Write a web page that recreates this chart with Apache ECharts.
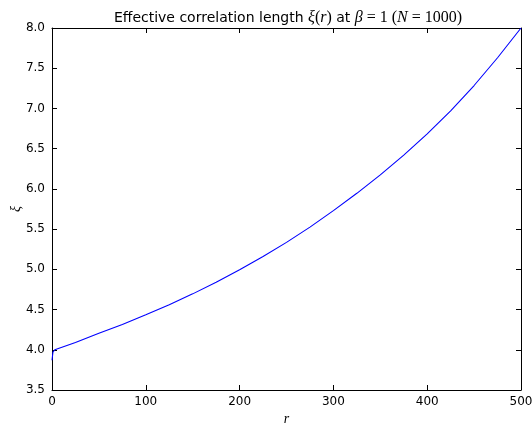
<!DOCTYPE html>
<html>
<head>
<meta charset="utf-8">
<script src="https://cdn.jsdelivr.net/npm/echarts@6/dist/echarts.min.js"></script>
<style>
  html, body { margin: 0; padding: 0; background: #fff; }
  #chart { width: 532px; height: 424px; }
</style>
</head>
<body>
<div id="chart"></div>
<script>
// values
var rVals  = [0, 1, 2, 3, 25, 50, 75, 100, 125, 150, 175, 200, 225, 250, 275, 300, 325, 350, 375, 400, 425, 450, 475, 500];
var xiVals = [3.87, 3.97, 3.99, 4.00, 4.09, 4.205, 4.315, 4.435, 4.56, 4.695, 4.84, 4.995, 5.16, 5.335, 5.525, 5.73, 5.945, 6.175, 6.42, 6.685, 6.97, 7.285, 7.63, 8.00];
var xTicks = [0, 100, 200, 300, 400, 500];
var yTicks = [3.5, 4.0, 4.5, 5.0, 5.5, 6.0, 6.5, 7.0, 7.5, 8.0];

var points = rVals.map(function (r, i) { return [r, xiVals[i]]; });

var myChart = echarts.init(document.getElementById('chart'));
var font = 'DejaVu Sans';
var serif = 'Liberation Serif';

var axisCommon = {
  axisLine: { onZero: false, lineStyle: { color: '#000', width: 1 } },
  axisTick: { inside: true, length: 5, lineStyle: { color: '#000' } },
  splitLine: { show: false }
};

var option = {
  animation: false,
  backgroundColor: '#fff',
  title: {
    text: '{a|Effective correlation length }{m|ξ}{s|(}{m|r}{s|)}{a| at }{m|β}{s| = 1 (}{m|N}{s| = 1000)}',
    left: 283,
    textAlign: 'center',
    top: 5,
    textStyle: {
      fontWeight: 'normal',
      rich: {
        a: { fontFamily: font, fontSize: 14, fontWeight: 'normal', color: '#000' },
        m: { fontFamily: serif, fontStyle: 'italic', fontWeight: 'normal', fontSize: 16, color: '#000' },
        s: { fontFamily: serif, fontWeight: 'normal', fontSize: 16, color: '#000' }
      }
    }
  },
  grid: { left: 52, right: 11, top: 28, bottom: 34, outerBoundsMode: 'none', containLabel: false },
  xAxis: [
    Object.assign({}, axisCommon, {
      type: 'value', min: 0, max: 500, interval: 100,
      name: 'r', nameLocation: 'middle', nameGap: 22, nameMoveOverlap: false,
      nameTextStyle: { fontFamily: serif, fontStyle: 'italic', fontSize: 14, color: '#000' },
      axisLabel: { fontFamily: font, fontSize: 12, color: '#000', margin: 6 }
    }),
    Object.assign({}, axisCommon, {
      type: 'value', min: 0, max: 500, interval: 100, position: 'top',
      axisLabel: { show: false }
    })
  ],
  yAxis: [
    Object.assign({}, axisCommon, {
      type: 'value', min: 3.5, max: 8.0, interval: 0.5,
      name: 'ξ', nameLocation: 'middle', nameGap: 29, nameMoveOverlap: false,
      nameTextStyle: { fontFamily: serif, fontStyle: 'italic', fontSize: 14, color: '#000' },
      axisLabel: {
        fontFamily: font, fontSize: 12, color: '#000', margin: 7,
        formatter: function (v) { return v.toFixed(1); }
      }
    }),
    Object.assign({}, axisCommon, {
      type: 'value', min: 3.5, max: 8.0, interval: 0.5, position: 'right',
      axisLabel: { show: false }
    })
  ],
  series: [
    {
      type: 'line',
      data: points,
      smooth: false,
      showSymbol: false,
      lineStyle: { color: '#0000ff', width: 1.1 },
      z: 1
    }
  ]
};
myChart.setOption(option);
</script>
</body>
</html>
